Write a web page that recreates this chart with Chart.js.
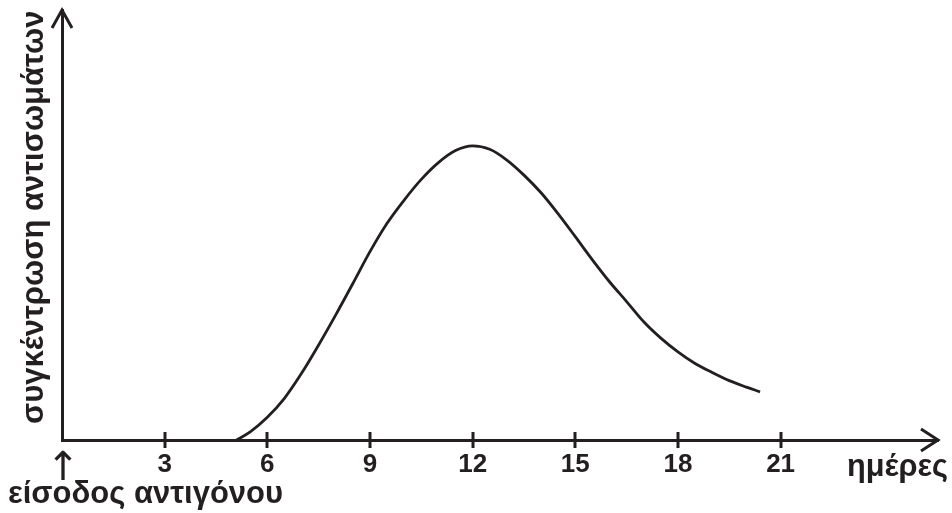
<!DOCTYPE html>
<html>
<head>
<meta charset="utf-8">
<script src="https://cdn.jsdelivr.net/npm/chart.js@4/dist/chart.umd.min.js"></script>
<style>
  html, body { margin: 0; padding: 0; background: #fff; }
  #wrap { width: 952px; height: 513px; }
</style>
</head>
<body>
<div id="wrap"><canvas id="chart"></canvas></div>
<script>
// values (concentration in arbitrary units, axis top = 100)
const days = [5.1, 5.5, 6, 6.5, 7, 7.5, 8, 8.5, 9, 9.5, 10, 10.5, 11, 11.5, 12,
  12.5, 13, 13.5, 14, 14.5, 15, 15.5, 16, 16.5, 17, 17.5, 18, 18.5, 19, 19.5, 20, 20.4];
const antibody = [0, 1.9, 5.3, 9.7, 15.5, 22.1, 29.1, 36.4, 43.8, 50.4, 55.8, 60.6, 64.5, 67.3, 68.4,
  67.6, 65.1, 61.6, 57.5, 52.6, 47.3, 41.9, 36.8, 32.2, 27.5, 23.7, 20.5, 17.8, 15.7, 13.8, 12.3, 11.2];
const dayTicks = [3, 6, 9, 12, 15, 18, 21];
const xLabel = 'ημέρες';
const yLabel = 'συγκέντρωση αντισωμάτων';
const startLabel = 'είσοδος αντιγόνου';

const ink = '#231f20';
const family = '"Liberation Sans", Arial, sans-serif';

const axisDecor = {
  id: 'axisDecor',
  afterDraw(chart) {
    const { ctx, chartArea: a, scales: { x } } = chart;
    ctx.save();
    ctx.strokeStyle = ink;
    ctx.fillStyle = ink;
    ctx.lineWidth = 3;

    // tick marks crossing the x axis
    dayTicks.forEach(d => {
      const px = Math.round(x.getPixelForValue(d));
      ctx.beginPath();
      ctx.moveTo(px, a.bottom - 8);
      ctx.lineTo(px, a.bottom + 8);
      ctx.stroke();
    });

    // arrow heads
    ctx.beginPath();
    ctx.moveTo(a.left - 10, a.top + 18);
    ctx.lineTo(a.left, a.top);
    ctx.lineTo(a.left + 10, a.top + 18);
    ctx.moveTo(a.right - 17, a.bottom - 11);
    ctx.lineTo(a.right, a.bottom);
    ctx.lineTo(a.right - 17, a.bottom + 11);
    ctx.stroke();

    // axis names
    ctx.font = 'bold 31px ' + family;
    ctx.textBaseline = 'alphabetic';
    ctx.textAlign = 'right';
    ctx.fillText(xLabel, 948, 476, 101);

    ctx.textAlign = 'left';
    ctx.fillText(startLabel, 8, 503, 276);

    ctx.font = '40px "DejaVu Sans", sans-serif';
    ctx.textAlign = 'center';
    ctx.fillText('↑', a.left + 1, 480);

    ctx.save();
    ctx.translate(43, 424);
    ctx.rotate(-Math.PI / 2);
    ctx.font = 'bold 31px ' + family;
    ctx.textAlign = 'left';
    ctx.fillText(yLabel, 0, 0, 414);
    ctx.restore();

    ctx.restore();
  }
};

new Chart(document.getElementById('chart'), {
  type: 'line',
  data: {
    datasets: [{
      data: days.map((d, i) => ({ x: d, y: antibody[i] })),
      borderColor: ink,
      borderWidth: 2.8,
      pointRadius: 0,
      fill: false,
      cubicInterpolationMode: 'monotone'
    }]
  },
  options: {
    responsive: true,
    maintainAspectRatio: false,
    animation: false,
    layout: { padding: { top: 10, right: 14, left: 0, bottom: 0 } },
    plugins: { legend: { display: false }, tooltip: { enabled: false } },
    scales: {
      x: {
        type: 'linear',
        min: 0,
        max: 25.6,
        afterBuildTicks: s => { s.ticks = dayTicks.map(v => ({ value: v })); },
        afterFit: s => { s.height = 73; },
        grid: { display: false, drawTicks: false },
        border: { display: true, color: ink, width: 3 },
        ticks: {
          color: ink,
          font: { family: family, size: 26, weight: 'bold' },
          padding: 9,
          maxRotation: 0,
          autoSkip: false
        }
      },
      y: {
        min: 0,
        max: 100,
        afterFit: s => { s.width = 62; },
        grid: { display: false, drawTicks: false },
        border: { display: true, color: ink, width: 3 },
        ticks: { display: false }
      }
    }
  },
  plugins: [axisDecor]
});
</script>
</body>
</html>
